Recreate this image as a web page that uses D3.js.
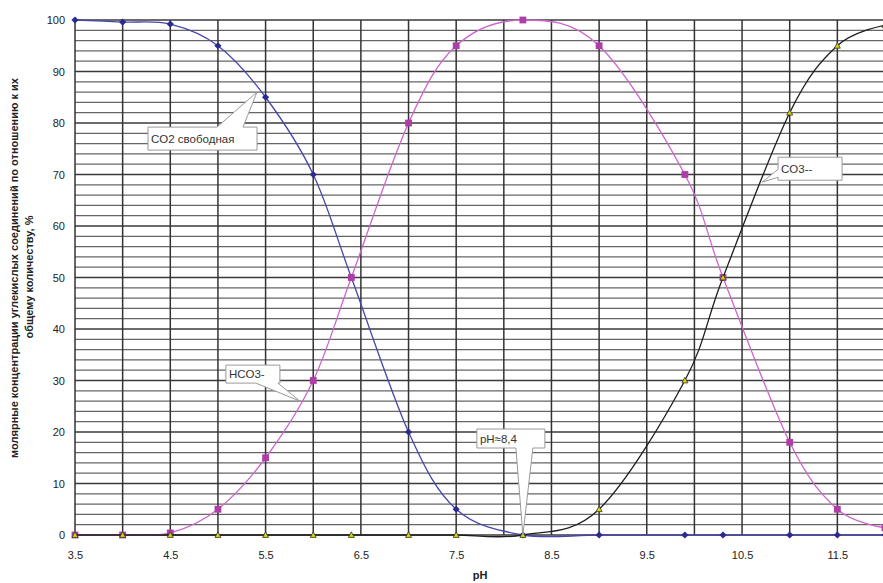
<!DOCTYPE html>
<html>
<head>
<meta charset="utf-8">
<script src="https://cdn.jsdelivr.net/npm/d3@7"></script>
<style>
  body { margin: 0; background: #fff; }
  svg { display: block; font-family: "Liberation Sans", Arial, sans-serif; }
</style>
</head>
<body>
<div id="chart"></div>
<script>
// pH values of the measured points
let phValues = [3.5, 4, 4.5, 5, 5.5, 6, 6.4, 7, 7.5, 8.2, 9, 9.9, 10.3, 11, 11.5, 12];
// molar share of each form, %
let co2Values  = [100, 99.6, 99.2, 95, 85, 70, 50, 20, 5, 0, 0, 0, 0, 0, 0, 0];
let hco3Values = [0, 0, 0.4, 5, 15, 30, 50, 80, 95, 100, 95, 70, 50, 18, 5, 1.4];
let co3Values  = [0, 0, 0, 0, 0, 0, 0, 0, 0, 0, 5, 30, 50, 82, 95, 99];

let xTickLabels = [3.5, 4.5, 5.5, 6.5, 7.5, 8.5, 9.5, 10.5, 11.5];
let yTickLabels = [0, 10, 20, 30, 40, 50, 60, 70, 80, 90, 100];

let calloutTexts = ['CO2 свободная', 'HCO3-', 'pH\u22488,4', 'CO3--'];
let calloutTips = [[5.41, 86], [5.86, 26], [8.2, 0], [10.71, 68.5]];

let yTitle1 = 'молярные концентрации углекислых соединений по отношению к их';
let yTitle2 = 'общему количеству, %';
let xTitle = 'pH';

let width = 883, height = 583;
let svg = d3.select('#chart').append('svg').attr('width', width).attr('height', height);
svg.append('rect').attr('width', width).attr('height', height).attr('fill', '#fff');

let xScale = d3.scaleLinear().domain([3.5, 12]).range([75, 885]);
let yScale = d3.scaleLinear().domain([0, 100]).range([535, 20]);

let grid = svg.append('g').attr('class', 'grid');

// horizontal grid every 2 %, darker every 10 %
grid.selectAll('.hline').data(d3.range(0, 101, 2)).enter().append('line')
  .attr('x1', xScale(3.5)).attr('x2', width)
  .attr('y1', d => yScale(d)).attr('y2', d => yScale(d))
  .attr('stroke', d => d % 10 == 0 ? '#3a3a3a' : '#666')
  .attr('stroke-width', d => d % 10 == 0 ? 1.6 : 1.3);

// vertical grid every 0.5 pH
grid.selectAll('.vline').data(d3.range(3.5, 12.01, 0.5)).enter().append('line')
  .attr('x1', d => xScale(d)).attr('x2', d => xScale(d))
  .attr('y1', yScale(100)).attr('y2', yScale(0))
  .attr('stroke', '#333').attr('stroke-width', 1.5);

let xAxis = d3.axisBottom(xScale).tickValues(xTickLabels).tickFormat(d3.format('.1f')).tickSize(0).tickPadding(16);
let yAxis = d3.axisLeft(yScale).tickValues(yTickLabels).tickSize(0).tickPadding(10);

let gx = svg.append('g').attr('transform', 'translate(0,' + yScale(0) + ')').call(xAxis);
let gy = svg.append('g').attr('transform', 'translate(' + xScale(3.5) + ',0)').call(yAxis);
[gx, gy].forEach(g => {
  g.select('.domain').remove();
  g.selectAll('text').attr('font-size', 11).attr('fill', '#222')
    .attr('font-family', '"Liberation Sans", Arial, sans-serif');
});

// axis titles
svg.append('text').text(yTitle1)
  .attr('transform', 'translate(18,268) rotate(-90)')
  .attr('text-anchor', 'middle').attr('font-size', 11).attr('font-weight', 'bold').attr('fill', '#222');
svg.append('text').text(yTitle2)
  .attr('transform', 'translate(33,277) rotate(-90)')
  .attr('text-anchor', 'middle').attr('font-size', 11).attr('font-weight', 'bold').attr('fill', '#222');
svg.append('text').text(xTitle)
  .attr('x', 480).attr('y', 579)
  .attr('text-anchor', 'middle').attr('font-size', 11).attr('font-weight', 'bold').attr('fill', '#222');

let line = d3.line()
  .x(d => xScale(d[0]))
  .y(d => yScale(d[1]))
  .curve(d3.curveCardinal.tension(0));

let series = [
  {values: co2Values, color: '#4646ac', marker: '#2a2a90', shape: 'diamond'},
  {values: hco3Values, color: '#cc66cc', marker: '#b03ca8', shape: 'square'},
  {values: co3Values, color: '#1e1e1e', marker: '#d8d800', shape: 'triangle'}
];

let markerPath = {
  diamond: 'M0,-3.6L3.6,0L0,3.6L-3.6,0Z',
  square: 'M-3.4,-3.4H3.4V3.4H-3.4Z',
  triangle: 'M0,-3.2L3,2.4H-3Z'
};

let plot = svg.append('g').attr('class', 'plot');
series.forEach(s => {
  let pts = phValues.map((p, i) => [p, s.values[i]]);
  plot.append('path').datum(pts)
    .attr('d', line)
    .attr('fill', 'none')
    .attr('stroke', s.color)
    .attr('stroke-width', 1.3);
  plot.selectAll(null).data(pts).enter().append('path')
    .attr('d', markerPath[s.shape])
    .attr('transform', d => 'translate(' + [xScale(d[0]), yScale(d[1])] + ')')
    .attr('fill', s.marker)
    .attr('stroke', s.shape == 'triangle' ? '#333' : 'none')
    .attr('stroke-width', 0.8);
});

// callout boxes: offset of the box from the tip, size, side of the wedge and its base
let calloutLayout = [
  {dx: -109, dy: 35, w: 109, h: 23, side: 'top', a: 69, b: 95},
  {dx: -74, dy: -36, w: 54, h: 18, side: 'bottom', a: 30, b: 52},
  {dx: -46, dy: -106, w: 68, h: 19, side: 'bottom', a: 39, b: 56},
  {dx: 16, dy: -25, w: 64, h: 23, side: 'left', a: 12, b: 20}
];

function calloutPath(x, y, w, h, side, a, b, tx, ty){
  let p = [[x, y]];
  if(side == 'top') p.push([x + a, y], [tx, ty], [x + b, y]);
  p.push([x + w, y]);
  if(side == 'right') p.push([x + w, y + a], [tx, ty], [x + w, y + b]);
  p.push([x + w, y + h]);
  if(side == 'bottom') p.push([x + b, y + h], [tx, ty], [x + a, y + h]);
  p.push([x, y + h]);
  if(side == 'left') p.push([x, y + b], [tx, ty], [x, y + a]);
  return 'M' + p.join('L') + 'Z';
}

let callouts = svg.append('g').attr('class', 'callouts');
calloutTexts.forEach((t, i) => {
  let tx = xScale(calloutTips[i][0]), ty = yScale(calloutTips[i][1]);
  let c = calloutLayout[i];
  let bx = tx + c.dx, by = ty + c.dy;
  callouts.append('path')
    .attr('d', calloutPath(bx, by, c.w, c.h, c.side, c.a, c.b, tx, ty))
    .attr('fill', '#fff')
    .attr('stroke', '#9a9a9a')
    .attr('stroke-width', 1)
    .attr('stroke-linejoin', 'round');
  callouts.append('text').text(t)
    .attr('x', bx + 3).attr('y', by + c.h / 2 + 4)
    .attr('font-size', 11.5).attr('fill', '#333');
});
</script>
</body>
</html>
